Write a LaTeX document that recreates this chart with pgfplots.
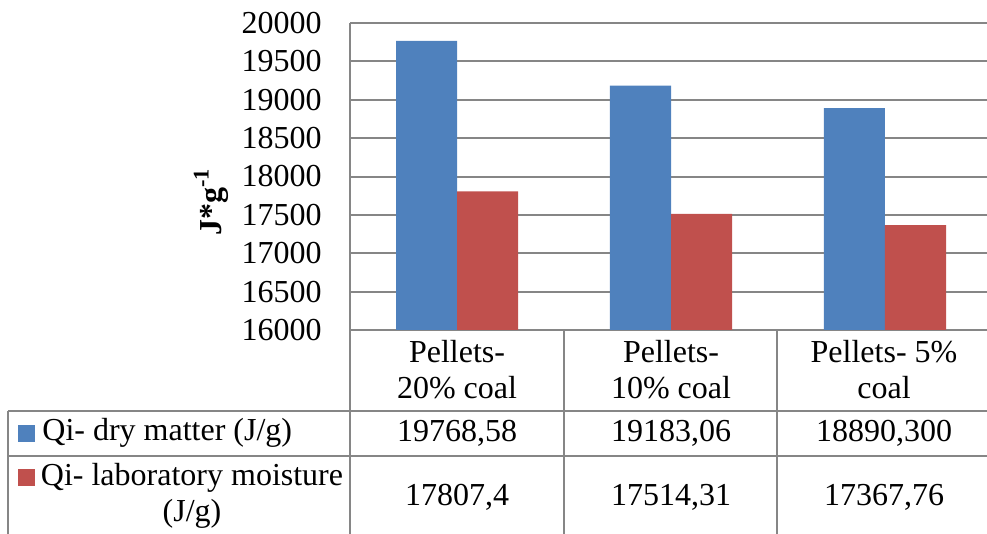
\documentclass[border=0pt]{standalone}
\usepackage{pgfplots}
\pgfplotsset{compat=1.18}
\usepackage{fontspec}
\setmainfont{Liberation Serif}
\definecolor{bblue}{RGB}{79,129,189}
\definecolor{bred}{RGB}{192,80,77}
\definecolor{gline}{RGB}{134,134,134}
\begin{document}
\fontsize{16}{18}\selectfont
\begin{tikzpicture}[x=0.5pt,y=-0.5pt]
\path[use as bounding box] (0,0) rectangle (987,534);
\begin{axis}[
  at={(175pt,-165pt)}, anchor=south west,
  scale only axis, width=321pt, height=153.5pt,
  xmin=-0.5, xmax=2.5, ymin=16000, ymax=20000,
  ytick={16000,16500,...,20000},
  scaled y ticks=false,
  yticklabel={\pgfmathprintnumber[fixed,precision=0,1000 sep={},assume math mode=true]{\tick}},
  xtick=\empty,
  ymajorgrids, grid style={gline, line width=1pt},
  axis line style={gline, line width=1pt},
  axis x line*=bottom, axis y line*=left,
  major tick length=0pt,
  ybar=0pt, bar width=30.5pt,
  yticklabel style={font=\fontsize{16}{16}\selectfont, xshift=-8.7pt},
]
\addplot[fill=bblue, draw=none] coordinates {(0,19768.58) (1,19183.06) (2,18890.3)};
\addplot[fill=bred, draw=none] coordinates {(0,17807.4) (1,17514.31) (2,17367.76)};
\end{axis}
% table lines
\draw[gline, line width=1pt] (350,330) -- (350,534);
\draw[gline, line width=1pt] (564,330) -- (564,534);
\draw[gline, line width=1pt] (777,330) -- (777,534);
\draw[gline, line width=1pt] (8,411) -- (987,411);
\draw[gline, line width=1pt] (8,456) -- (987,456);
\draw[gline, line width=1pt] (8,411) -- (8,534);
% category labels
\node[align=center, inner sep=0pt] at (457,370) {Pellets-\\20\% coal};
\node[align=center, inner sep=0pt] at (671,370) {Pellets-\\10\% coal};
\node[align=center, inner sep=0pt] at (884,370) {Pellets- 5\%\\coal};
% values
\node[inner sep=0pt] at (457,433) {19768,58};
\node[inner sep=0pt] at (671,433) {19183,06};
\node[inner sep=0pt] at (884,433) {18890,300};
\node[inner sep=0pt] at (457,497) {17807,4};
\node[inner sep=0pt] at (671,497) {17514,31};
\node[inner sep=0pt] at (884,497) {17367,76};
% legend
\fill[bblue] (18,425) rectangle (35,442);
\node[anchor=west, inner sep=0pt] at (42,433) {Qi- dry matter (J/g)};
\fill[bred] (18,469) rectangle (35,486);
\node[align=center, inner sep=0pt] at (192,496) {Qi- laboratory moisture\\(J/g)};
% y label
\node[rotate=90, inner sep=0pt, font=\bfseries] at (211,202) {J*g\textsuperscript{-1}};
\end{tikzpicture}
\end{document}
